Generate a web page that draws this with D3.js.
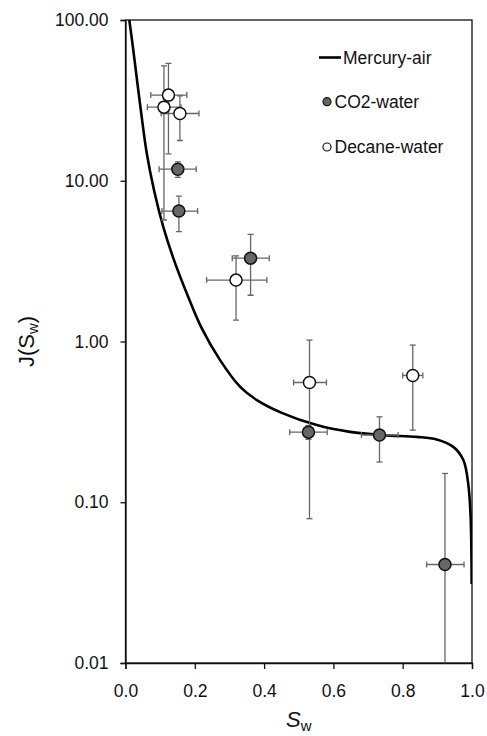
<!DOCTYPE html>
<html>
<head>
<meta charset="utf-8">
<script src="https://cdn.jsdelivr.net/npm/d3@7"></script>
<style>
  body { margin: 0; background: #fff; }
  text { font-family: "Liberation Sans", Arial, sans-serif; fill: #111; }
</style>
</head>
<body>
<div id="chart"></div>
<script>
// mercury-air capillary curve
var mercurySw = [0.011, 0.0225, 0.042, 0.061, 0.083, 0.109, 0.140, 0.177, 0.218, 0.273, 0.331, 0.379,
                 0.451, 0.552, 0.648, 0.744, 0.840, 0.898, 0.946, 0.975, 0.989, 0.996, 0.999];
var mercuryJ  = [100, 65, 30, 15, 8.6, 5.17, 3.21, 1.99, 1.234, 0.766, 0.522, 0.432,
                 0.36, 0.302, 0.274, 0.2615, 0.255, 0.246, 0.221, 0.183, 0.131, 0.081, 0.031];

// CO2-water points with error bars
var co2Sw    = [0.151, 0.154, 0.361, 0.528, 0.733, 0.922];
var co2SwLo  = [0.097, 0.105, 0.308, 0.474, 0.681, 0.869];
var co2SwHi  = [0.204, 0.208, 0.415, 0.582, 0.787, 0.977];
var co2J     = [11.8, 6.48, 3.30, 0.273, 0.262, 0.041];
var co2JLo   = [10.5, 4.82, 1.94, 0.246, 0.178, 0.005];
var co2JHi   = [13.1, 8.03, 4.64, 0.300, 0.340, 0.151];

// decane-water points with error bars
var decSw    = [0.111, 0.124, 0.157, 0.319, 0.531, 0.829];
var decSwLo  = [0.063, 0.073, 0.103, 0.234, 0.485, 0.800];
var decSwHi  = [0.160, 0.177, 0.212, 0.408, 0.580, 0.858];
var decJ     = [28.7, 34.1, 26.2, 2.41, 0.556, 0.615];
var decJLo   = [5.7, 14.7, 17.8, 1.36, 0.079, 0.281];
var decJHi   = [51.8, 53.8, 33.8, 3.41, 1.02, 0.95];

var xTicks = [0, 0.2, 0.4, 0.6, 0.8, 1.0];
var yTicks = [100, 10, 1, 0.1, 0.01];

var width = 487, height = 736;
var mLeft = 125.5, mRight = 472, mTop = 20, mBottom = 663;

var svg = d3.select("#chart").append("svg")
    .attr("width", width)
    .attr("height", height);

var x = d3.scaleLinear().domain([0, 1]).range([mLeft, mRight]);
var y = d3.scaleLog().domain([0.01, 100]).range([mBottom, mTop]);

svg.append("defs").append("clipPath").attr("id", "plotclip")
    .append("rect").attr("x", mLeft).attr("y", mTop)
    .attr("width", mRight - mLeft).attr("height", mBottom - mTop);

// frame
svg.append("rect")
    .attr("x", mLeft).attr("y", mTop)
    .attr("width", mRight - mLeft).attr("height", mBottom - mTop)
    .attr("fill", "none").attr("stroke", "#111").attr("stroke-width", 1.3);

// axes
var xAxis = svg.append("g")
    .attr("transform", "translate(0," + mBottom + ")")
    .call(d3.axisBottom(x).tickValues(xTicks).tickSize(6).tickPadding(12)
        .tickFormat(d3.format(".1f")));
xAxis.select(".domain").attr("stroke", "#111").attr("stroke-width", 1.3);
xAxis.selectAll(".tick line").attr("stroke", "#111").attr("stroke-width", 1.3);
xAxis.selectAll("text").attr("font-size", 17.5).attr("fill", "#111")
    .attr("dy", null).attr("y", 34);

var yAxis = svg.append("g")
    .attr("transform", "translate(" + mLeft + ",0)")
    .call(d3.axisLeft(y).tickValues(yTicks).tickSize(5).tickPadding(12)
        .tickFormat(d3.format(".2f")));
yAxis.select(".domain").attr("stroke", "#111").attr("stroke-width", 1.3);
yAxis.selectAll(".tick line").attr("stroke", "#111").attr("stroke-width", 1.3);
yAxis.selectAll("text").attr("font-size", 17.5).attr("fill", "#111");

// axis titles
var xt = svg.append("text")
    .attr("x", x(0.5)).attr("y", 727)
    .attr("text-anchor", "middle").attr("font-size", 22);
xt.append("tspan").attr("font-style", "italic").text("S");
xt.append("tspan").attr("font-size", 15).attr("dy", 4).text("w");

var yt = svg.append("text")
    .attr("transform", "translate(34," + ((mTop + mBottom) / 2) + ") rotate(-90)")
    .attr("text-anchor", "middle").attr("font-size", 22);
yt.append("tspan").text("J(S");
yt.append("tspan").attr("font-size", 15).attr("dy", 4).text("w");
yt.append("tspan").attr("dy", -4).text(")");

var plot = svg.append("g").attr("clip-path", "url(#plotclip)");

// curve
var curve = mercurySw.map(function (d, i) { return [d, mercuryJ[i]]; });
plot.append("path")
    .datum(curve)
    .attr("fill", "none")
    .attr("stroke", "#000")
    .attr("stroke-width", 2.6)
    .attr("d", d3.line()
        .x(function (d) { return x(d[0]); })
        .y(function (d) { return y(d[1]); })
        .curve(d3.curveCatmullRom.alpha(0.5)));

function series(sw, swLo, swHi, j, jLo, jHi, fill) {
    var pts = sw.map(function (d, i) {
        return { sw: d, swLo: swLo[i], swHi: swHi[i], j: j[i], jLo: jLo[i], jHi: jHi[i] };
    });
    return { pts: pts, fill: fill };
}

var allSeries = [
    series(decSw, decSwLo, decSwHi, decJ, decJLo, decJHi, "#fff"),
    series(co2Sw, co2SwLo, co2SwHi, co2J, co2JLo, co2JHi, "#666")
];

var cap = 3;
var errColor = "#666";

// error bars first
allSeries.forEach(function (s) {
    var g = plot.append("g").attr("stroke", errColor).attr("stroke-width", 1.3);
    s.pts.forEach(function (p) {
        g.append("line").attr("x1", x(p.sw)).attr("x2", x(p.sw))
            .attr("y1", y(p.jLo)).attr("y2", y(p.jHi));
        g.append("line").attr("x1", x(p.sw) - cap).attr("x2", x(p.sw) + cap)
            .attr("y1", y(p.jLo)).attr("y2", y(p.jLo));
        g.append("line").attr("x1", x(p.sw) - cap).attr("x2", x(p.sw) + cap)
            .attr("y1", y(p.jHi)).attr("y2", y(p.jHi));
        g.append("line").attr("x1", x(p.swLo)).attr("x2", x(p.swHi))
            .attr("y1", y(p.j)).attr("y2", y(p.j));
        g.append("line").attr("x1", x(p.swLo)).attr("x2", x(p.swLo))
            .attr("y1", y(p.j) - cap).attr("y2", y(p.j) + cap);
        g.append("line").attr("x1", x(p.swHi)).attr("x2", x(p.swHi))
            .attr("y1", y(p.j) - cap).attr("y2", y(p.j) + cap);
    });
});

// markers
allSeries.forEach(function (s) {
    plot.append("g").selectAll("circle")
        .data(s.pts)
        .enter()
        .append("circle")
        .attr("cx", function (d) { return x(d.sw); })
        .attr("cy", function (d) { return y(d.j); })
        .attr("r", 6)
        .attr("fill", s.fill)
        .attr("stroke", "#111")
        .attr("stroke-width", 1.5);
});

// legend
var lg = svg.append("g");
lg.append("line").attr("x1", 319).attr("x2", 341).attr("y1", 57.5).attr("y2", 57.5)
    .attr("stroke", "#000").attr("stroke-width", 2.6);
lg.append("text").attr("x", 343).attr("y", 64).attr("font-size", 17.5).text("Mercury-air");
lg.append("circle").attr("cx", 327).attr("cy", 101.7).attr("r", 4)
    .attr("fill", "#666").attr("stroke", "#111").attr("stroke-width", 1.2);
lg.append("text").attr("x", 334.5).attr("y", 108.3).attr("font-size", 17.5).text("CO2-water");
lg.append("circle").attr("cx", 327).attr("cy", 147).attr("r", 4)
    .attr("fill", "#fff").attr("stroke", "#111").attr("stroke-width", 1.2);
lg.append("text").attr("x", 334.5).attr("y", 153.3).attr("font-size", 17.5).text("Decane-water");
</script>
</body>
</html>
